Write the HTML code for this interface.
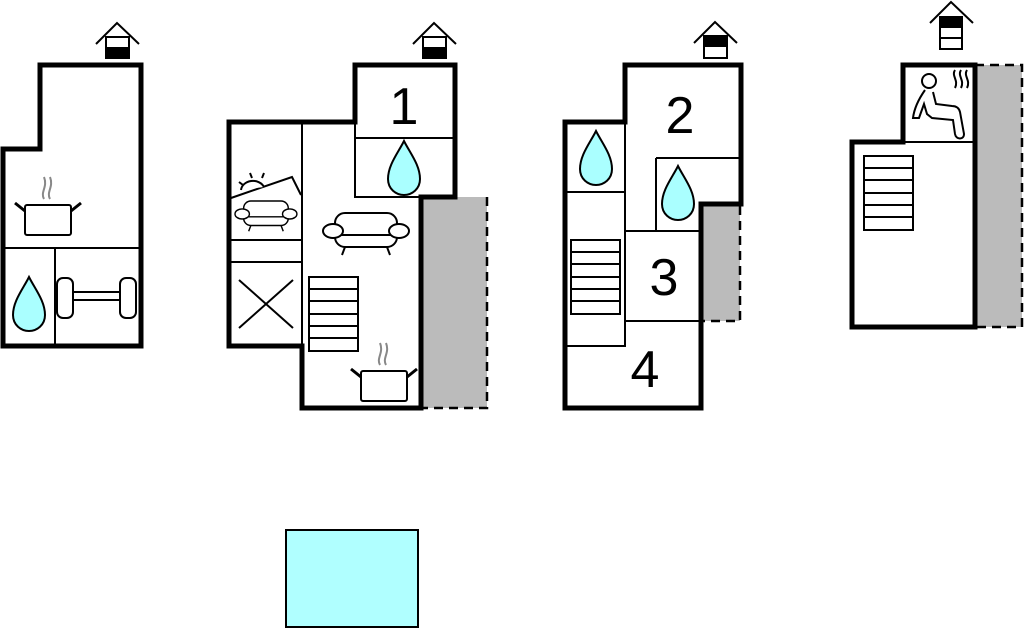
<!DOCTYPE html>
<html><head><style>body{margin:0;background:#fff}svg{display:block}text{font-family:"Liberation Sans",sans-serif}</style></head><body>
<svg width="1024" height="628" viewBox="0 0 1024 628" xmlns="http://www.w3.org/2000/svg">
<defs>
<g id="drop"><path d="M0,0 C6,12 16,24 16,38 C16,48 8,54 0,54 C-8,54 -16,48 -16,38 C-16,24 -6,12 0,0Z" fill="#aff" stroke="#000" stroke-width="2"/></g>
<g id="pot" fill="#fff" stroke="#000" stroke-width="2"><rect x="0" y="0" width="46" height="30" rx="2"/><path d="M0,6 L-10,-2 M46,6 L56,-2" stroke-width="3"/><path d="M19,-6 c-4,-7 4,-12 0,-22 M25,-6 c-4,-7 4,-12 0,-22" stroke="#888" fill="none"/></g>
<g id="stairs" fill="#fff" stroke="#000" stroke-width="2"><rect x="0" y="0" width="49" height="74"/><path d="M0,12 H49 M0,24 H49 M0,37 H49 M0,49 H49 M0,61 H49"/></g>
<g id="sofa" fill="#fff" stroke="#000" stroke-width="2"><rect x="12" y="0" width="62" height="34" rx="10"/><path d="M12,22 H74"/><ellipse cx="10" cy="18" rx="10" ry="7"/><ellipse cx="76" cy="18" rx="10" ry="7"/><path d="M22,34 l-3,8 M64,34 l3,8"/></g>
</defs>
<g fill="none" stroke="#000">
<path d="M40,65 H141 V346 H3 V149 H40 Z" stroke-width="5" fill="#fff"/>
<path d="M3,248 H141 M55,248 V346" stroke-width="2"/>
<rect x="421" y="197" width="66" height="211" fill="#bbb" stroke="none"/>
<path d="M487,197 V408 H421" stroke-width="2.5" stroke-dasharray="9,6"/>
<path d="M355,65 H455 V197 H421 V408 H302 V346 H229 V122 H355 Z" stroke-width="5" fill="#fff"/>
<path d="M302,122 V346 M355,138 H455 M355,122 V197 H421 M229,240 H302 M229,262 H302" stroke-width="2"/>
<path d="M239,280 L293,328 M293,280 L239,328" stroke-width="2"/>
<rect x="701" y="206" width="39" height="115" fill="#bbb" stroke="none"/>
<path d="M740,206 V321 H701" stroke-width="2.5" stroke-dasharray="9,6"/>
<path d="M625,65 H741 V204 H701 V408 H565 V122 H625 Z" stroke-width="5" fill="#fff"/>
<path d="M565,192 H625 M625,122 V346 H565 M625,231 H701 M625,321 H701 M656,158 H741 M656,158 V231" stroke-width="2"/>
<rect x="975" y="65" width="47" height="262" fill="#bbb" stroke="none"/>
<path d="M975,65 H1022 V327 H975" stroke-width="2.5" stroke-dasharray="9,6"/>
<path d="M903,65 H975 V327 H852 V142 H903 Z" stroke-width="5" fill="#fff"/>
<path d="M903,142 H975" stroke-width="2"/>
</g>
<use href="#pot" x="25" y="205"/>
<use href="#drop" x="29" y="277"/>
<g fill="#fff" stroke="#000" stroke-width="2"><rect x="70" y="292" width="50" height="8"/><rect x="57" y="278" width="16" height="40" rx="6"/><rect x="120" y="278" width="16" height="40" rx="6"/></g>
<text x="404" y="124" font-size="52" text-anchor="middle">1</text>
<use href="#drop" x="404" y="141"/>
<use href="#sofa" x="323" y="213"/>
<g fill="#fff" stroke="#000" stroke-width="2"><path d="M231,198 L292,177 L301,195"/><path d="M241,190 a12,10 0 0 1 23,-3"/><path d="M252,178 l-2,-5 M262,178 l2,-5 M243,185 l-4,-3"/></g>
<g transform="translate(235,201) scale(0.72)"><use href="#sofa"/></g>
<use href="#stairs" x="309" y="277"/>
<use href="#pot" x="361" y="371"/>
<text x="680" y="133" font-size="52" text-anchor="middle">2</text>
<text x="664" y="295" font-size="52" text-anchor="middle">3</text>
<text x="645" y="387" font-size="52" text-anchor="middle">4</text>
<use href="#drop" x="596" y="131"/>
<use href="#drop" x="678" y="166"/>
<use href="#stairs" x="571" y="240"/>
<use href="#stairs" x="864" y="156"/>
<g fill="none" stroke="#000" stroke-width="2"><circle cx="929" cy="81" r="7"/><path d="M925,90 C918,100 914,110 913,118 L919,118 L924,104 L927,114 L932,118 L953,120 L955,134 C956,140 964,140 964,134 L960,112 C959,108 956,106 952,106 L936,104 L933,92"/><path d="M955,70 c-4,6 4,10 0,18 M961,70 c-4,6 4,10 0,18 M967,70 c-4,6 4,10 0,18"/></g>
<g stroke="#000" stroke-width="2" fill="#fff">
<path d="M96,44 L117,23 L139,44" fill="none"/><rect x="106" y="37" width="23" height="21"/><rect x="106" y="48" width="23" height="10" fill="#000"/>
<path d="M413,44 L434,23 L456,44" fill="none"/><rect x="423" y="37" width="23" height="21"/><rect x="423" y="48" width="23" height="10" fill="#000"/>
<path d="M694,43 L715,22 L737,43" fill="none"/><rect x="704" y="36" width="23" height="22"/><rect x="704" y="36" width="23" height="10" fill="#000"/>
<path d="M930,23 L951,2 L973,23" fill="none"/><rect x="940" y="17" width="22" height="32"/><rect x="940" y="17" width="22" height="10" fill="#000"/><path d="M940,38 H962"/>
</g>
<rect x="286" y="530" width="132" height="97" fill="#b0ffff" stroke="#000" stroke-width="2"/>
</svg>
</body></html>
